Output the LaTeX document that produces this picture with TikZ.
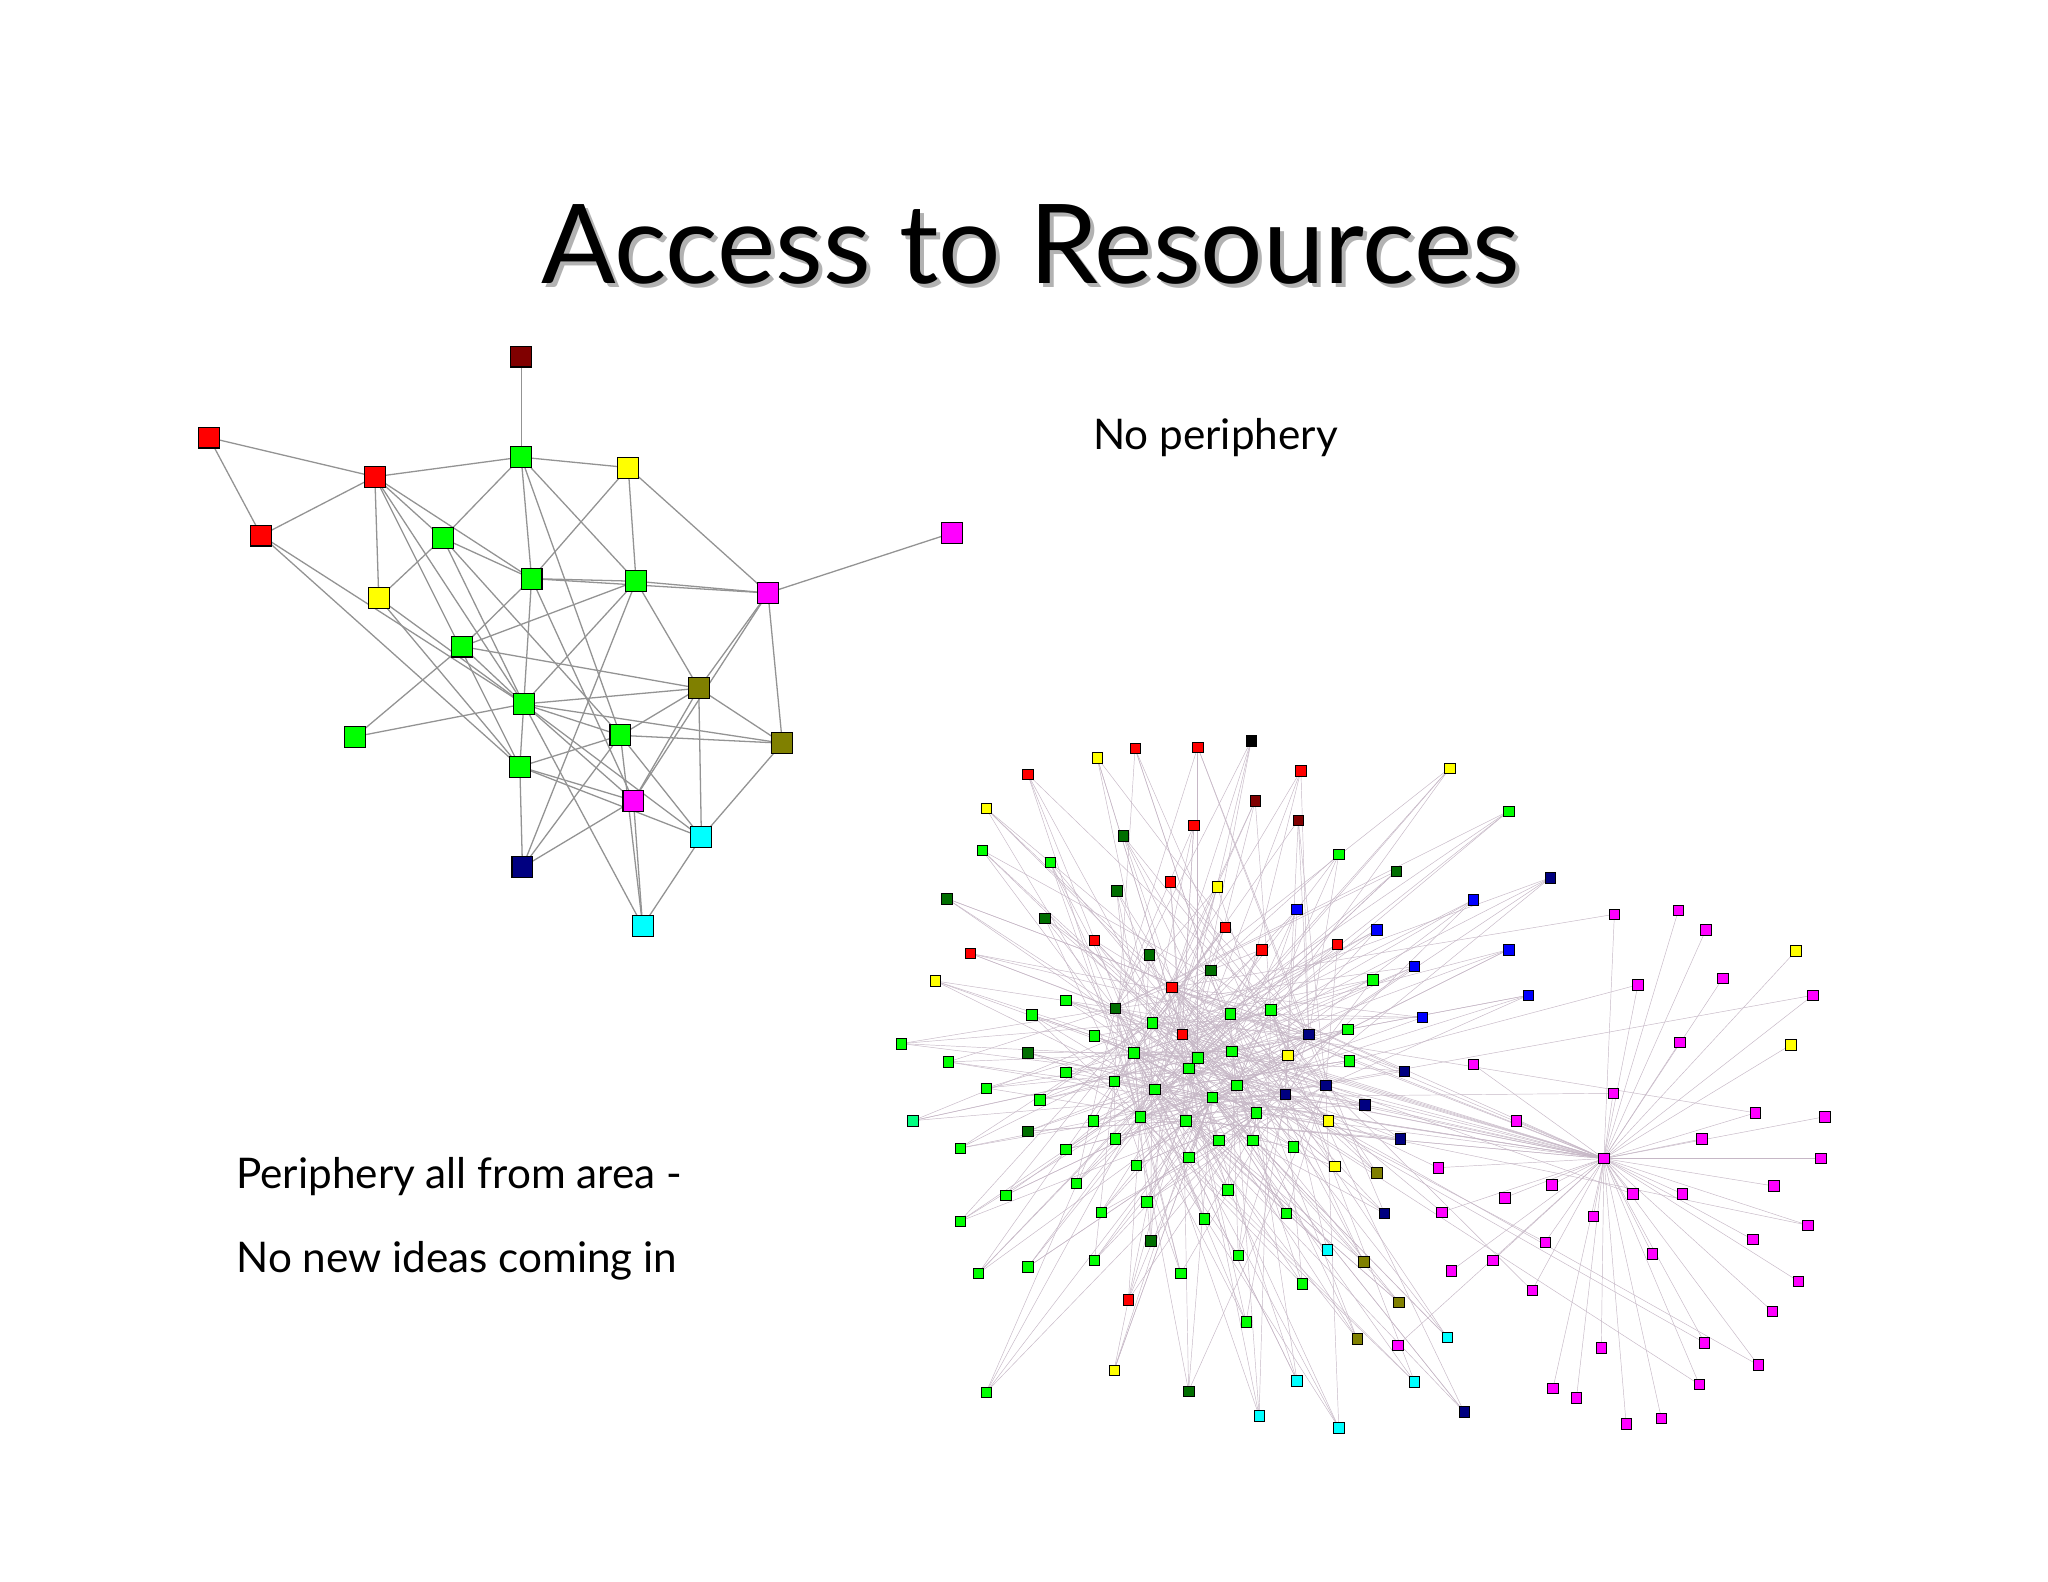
\documentclass[tikz,border=0pt]{standalone}
\usepackage{fontspec}
\setmainfont{Lato}
\begin{document}
\begin{tikzpicture}[x=0.025cm,y=-0.025cm,
 sn/.style={draw=black,line width=0.6pt,minimum size=0.4cm,inner sep=0pt,rectangle},
 bn/.style={draw=black,line width=0.3pt,minimum size=0.2cm,inner sep=0pt,rectangle},
 se/.style={draw=gray!85,line width=0.7pt},
 be/.style={draw=violet!25!gray!45,line width=0.25pt},
 lbl/.style={font=\fontsize{23}{28}\selectfont,anchor=west}]
\useasboundingbox[fill=white] (0,0) rectangle (1568,1211);
\definecolor{dr}{RGB}{128,0,0}\definecolor{rr}{RGB}{255,0,0}\definecolor{gg}{RGB}{0,255,0}
\definecolor{yy}{RGB}{255,255,0}\definecolor{mm}{RGB}{255,0,255}\definecolor{oo}{RGB}{128,128,0}
\definecolor{cc}{RGB}{0,255,255}\definecolor{nv}{RGB}{0,0,128}\definecolor{dg}{RGB}{0,110,0}
\definecolor{bb}{RGB}{0,0,255}\definecolor{kk}{RGB}{0,0,0}\definecolor{sg}{RGB}{0,255,128}
% title
\node[gray!60,font=\fontsize{60}{70}\selectfont] at (792,190) {Access to Resources};
\node (title) [font=\fontsize{60}{70}\selectfont] at (789,187) {Access to Resources};
\node (np) [lbl] at (832,335) {No periphery};
\node (p1) [lbl] at (176,901) {Periphery all from area -};
\node (p2) [lbl] at (176,965) {No new ideas coming in};
% small network nodes
\foreach \n/\x/\y/\c in {A/399/273/dr,B/160/335/rr,C/287/365/rr,D/200/410/rr,E/399/350/gg,F/481/358/yy,
 G/339/412/gg,H/729/408/mm,I/407/443/gg,J/487/445/gg,K/290/458/yy,L/588/454/mm,M/354/495/gg,
 N/535/527/oo,O/401/539/gg,P/272/564/gg,Q/475/563/gg,R/599/569/oo,S/398/587/gg,T/485/613/mm,
 U/537/641/cc,V/400/664/nv,W/492/709/cc}
 \coordinate (\n) at (\x,\y);
\foreach \a/\b in {A/E,B/C,B/D,C/D,C/E,E/F,C/K,C/G,C/I,C/O,C/S,D/O,D/S,E/G,G/K,E/Q,E/J,E/I,
 F/I,F/J,F/L,G/I,G/O,G/Q,I/J,I/L,I/M,I/O,I/T,J/L,J/M,J/O,J/N,J/V,H/L,K/O,K/S,L/N,L/T,L/R,
 M/O,M/P,M/N,N/O,N/Q,N/R,N/U,N/T,O/P,O/Q,O/R,O/S,O/T,O/U,O/W,Q/S,Q/R,Q/V,Q/U,Q/W,R/U,
 S/V,S/T,S/U,T/V,T/W,U/W}
 \draw[se] (\a) -- (\b);
\foreach \n/\x/\y/\c in {A/399/273/dr,B/160/335/rr,C/287/365/rr,D/200/410/rr,E/399/350/gg,F/481/358/yy,
 G/339/412/gg,H/729/408/mm,I/407/443/gg,J/487/445/gg,K/290/458/yy,L/588/454/mm,M/354/495/gg,
 N/535/527/oo,O/401/539/gg,P/272/564/gg,Q/475/563/gg,R/599/569/oo,S/398/587/gg,T/485/613/mm,
 U/537/641/cc,V/400/664/nv,W/492/709/cc}
 \node[sn,fill=\c] (s\n) at (\x,\y) {};
% big network
\def\core{882/783/gg,942/776/gg,905/792/rr,917/810/gg,943/805/gg,868/806/gg,884/834/gg,910/818/gg,
 928/840/gg,947/831/gg,853/828/gg,873/855/gg,908/858/gg,962/852/gg,1002/792/nv,984/838/nv,
 1015/831/nv,897/756/rr,973/773/gg,854/772/dg}
\foreach \x/\y/\c [count=\i] in \core {\coordinate (k\i) at (\x,\y);}
\coordinate (hub) at (1228,887);
\def\west{958/567/kk,869/573/rr,917/572/rr,840/580/yy,787/593/rr,996/590/rr,1110/588/yy,961/613/dr,
 994/628/dr,914/632/rr,755/619/yy,1155/621/gg,860/640/dg,752/651/gg,804/660/gg,1025/654/gg,1069/667/dg,
 1187/672/nv,725/688/dg,855/682/dg,896/675/rr,932/679/yy,993/696/bb,1128/689/bb,800/703/dg,938/710/rr,
 1054/712/bb,743/730/rr,838/720/rr,880/731/dg,966/727/rr,1024/723/rr,927/743/dg,1155/727/bb,1083/740/bb,
 716/751/yy,1051/750/gg,790/777/gg,816/766/gg,1170/762/bb,1089/779/bb,690/799/gg,726/813/gg,
 787/806/dg,838/793/gg,986/808/yy,1032/788/gg,1033/812/gg,1075/820/nv,755/833/gg,816/821/gg,
 796/842/gg,837/858/gg,1045/846/nv,1017/858/yy,699/858/sg,735/879/gg,787/866/dg,816/880/gg,
 854/872/gg,933/873/gg,959/873/gg,990/878/gg,1072/872/nv,870/892/gg,910/886/gg,1022/893/yy,
 1054/898/oo,770/915/gg,824/906/gg,735/935/gg,843/928/gg,878/920/gg,922/933/gg,940/911/gg,
 985/929/gg,1060/929/nv,749/975/gg,787/970/gg,838/965/gg,881/950/dg,904/975/gg,948/961/gg,
 1016/957/cc,1044/966/oo,864/995/rr,997/983/gg,1071/997/oo,954/1012/gg,1039/1025/oo,
 1108/1024/cc,853/1049/yy,993/1057/cc,1083/1058/cc,755/1066/gg,910/1065/dg,964/1084/cc,
 1121/1081/nv,1025/1093/cc}
\def\east{1128/815/mm,1161/858/mm,1101/894/mm,1188/907/mm,1303/872/mm,1344/852/mm,1397/855/mm,
 1394/887/mm,1104/928/mm,1152/917/mm,1220/931/mm,1250/914/mm,1288/914/mm,1358/908/mm,1384/938/mm,
 1111/973/mm,1143/965/mm,1183/951/mm,1265/960/mm,1342/949/mm,1173/988/mm,1377/981/mm,1070/1030/mm,
 1305/1028/mm,1357/1004/mm,1226/1032/mm,1346/1045/mm,1189/1063/mm,1207/1070/mm,1301/1060/mm,
 1245/1090/mm,1272/1086/mm,1236/700/mm,1285/697/mm,1306/712/mm,1254/754/mm,1319/749/mm,
 1375/728/yy,1388/762/mm,1286/798/mm,1371/800/yy,1235/837/mm}
\pgfmathsetseed{7}
\foreach \x/\y/\c [count=\i] in \west {
 \coordinate (w\i) at (\x,\y);
 \foreach \r in {1,...,4}{\pgfmathtruncatemacro\k{random(1,20)}\draw[be] (w\i) -- (k\k);}}
\foreach \i in {1,...,20}{\pgfmathtruncatemacro\k{random(1,20)}\draw[be] (k\i) -- (k\k);
 \pgfmathtruncatemacro\k{random(1,20)}\draw[be] (k\i) -- (k\k);\draw[be] (hub) -- (k\i);}
\foreach \x/\y/\c [count=\i] in \east {
 \coordinate (e\i) at (\x,\y);
 \draw[be] (e\i) -- (hub);
 \pgfmathtruncatemacro\z{mod(\i,3)}
 \ifnum\z=0 \pgfmathtruncatemacro\k{random(1,20)}\draw[be] (e\i) -- (k\k);\fi}
\foreach \x/\y/\c [count=\i] in \west {\node[bn,fill=\c] (W\i) at (\x,\y) {};}
\foreach \x/\y/\c [count=\i] in \core {\node[bn,fill=\c] (K\i) at (\x,\y) {};}
\foreach \x/\y/\c [count=\i] in \east {\node[bn,fill=\c] (E\i) at (\x,\y) {};}
\node[bn,fill=mm] (H) at (1228,887) {};
\end{tikzpicture}
\end{document}
